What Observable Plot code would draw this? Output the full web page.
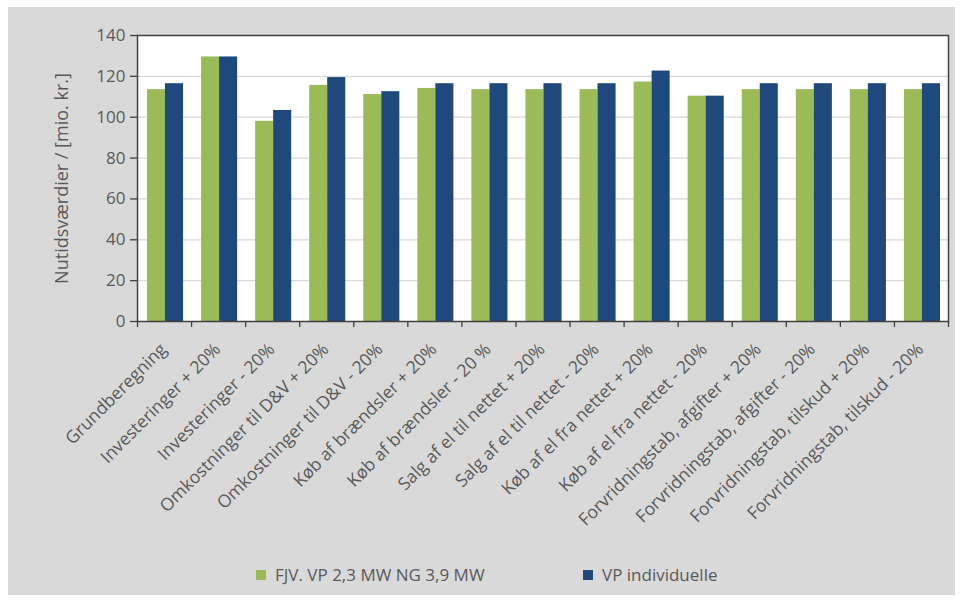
<!DOCTYPE html>
<html><head><meta charset="utf-8">
<script src="https://cdn.jsdelivr.net/npm/d3@7"></script>
<script src="https://cdn.jsdelivr.net/npm/@observablehq/plot@0.6"></script>
<style>
html,body{margin:0;padding:0;background:#fff;width:962px;height:602px;overflow:hidden;font-family:"Open Sans",sans-serif;}
#panel{position:absolute;left:8px;top:7px;width:947px;height:588px;background:#d9d9d9;}
#chart{position:absolute;left:0;top:0;}
.leg{position:absolute;top:563px;display:flex;align-items:center;color:#595959;font-size:17px;font-family:"Open Sans",sans-serif;white-space:nowrap;}
.sw{width:10px;height:10px;margin-right:9px;}
</style></head>
<body>
<div id="panel"></div>
<div id="chart"></div>
<div id="legend"></div>
<script>
const categories = [
  "Grundberegning",
  "Investeringer + 20%",
  "Investeringer - 20%",
  "Omkostninger til D&V + 20%",
  "Omkostninger til D&V - 20%",
  "Køb af brændsler + 20%",
  "Køb af brændsler - 20 %",
  "Salg af el til nettet + 20%",
  "Salg af el til nettet - 20%",
  "Køb af el fra nettet + 20%",
  "Køb af el fra nettet - 20%",
  "Forvridningstab, afgifter + 20%",
  "Forvridningstab, afgifter - 20%",
  "Forvridningstab, tilskud + 20%",
  "Forvridningstab, tilskud - 20%"
];
const seriesNames = ["FJV. VP 2,3 MW NG 3,9 MW", "VP individuelle"];
const seriesColors = ["#9bbb59", "#1f497d"];
const fjvValues = [113.5, 129.5, 98, 115.6, 111.1, 114.1, 113.5, 113.5, 113.5, 117.2, 110.3, 113.5, 113.5, 113.5, 113.5];
const vpValues  = [116.4, 129.5, 103.3, 119.4, 112.5, 116.4, 116.4, 116.4, 116.4, 122.6, 110.3, 116.4, 116.4, 116.4, 116.4];
const yTicks = [0, 20, 40, 60, 80, 100, 120, 140];
const yTitle = "Nutidsværdier / [mio. kr.]";

const rows = categories.map((c, i) => ({i, c, fjv: fjvValues[i], vp: vpValues[i]}));
const boundaries = d3.range(categories.length + 1);
const centers = categories.map((c, i) => i + 0.5);
const textColor = "#595959";
const axisColor = "#404040";

const chart = Plot.plot({
  width: 962,
  height: 530,
  marginLeft: 137,
  marginRight: 14,
  marginTop: 35,
  marginBottom: 209,
  style: "background: transparent; overflow: visible;",
  x: {type: "linear", domain: [0, categories.length], axis: null},
  y: {domain: [0, 140], axis: null},
  marks: [
    Plot.frame({fill: "white", stroke: null}),
    Plot.gridY(yTicks.filter(t => t > 0 && t < 140), {stroke: "#d9d9d9", strokeOpacity: 1, strokeWidth: 1.2}),
    Plot.rectY(rows, {x1: "i", x2: d => d.i + 1, y1: 0, y2: "fjv", fill: seriesColors[0], insetLeft: 10, insetRight: 26}),
    Plot.rectY(rows, {x1: "i", x2: d => d.i + 1, y1: 0, y2: "vp", fill: seriesColors[1], insetLeft: 28, insetRight: 8}),
    Plot.frame({stroke: axisColor, strokeWidth: 1.5}),
    Plot.axisY(yTicks, {anchor: "left", tickSize: 7, tickPadding: 5, stroke: axisColor, strokeWidth: 1.3, fill: textColor, fontSize: 17, fontFamily: "Open Sans", label: null}),
    Plot.axisX(boundaries, {anchor: "bottom", tickSize: 6, stroke: axisColor, strokeWidth: 1.3, tickFormat: () => "", label: null}),
    Plot.axisX(centers, {anchor: "bottom", tickSize: 0, tickPadding: 25, dx: -1, tickRotate: -45, tickFormat: d => categories[Math.round(d - 0.5)], fill: textColor, fontSize: 17.5, fontFamily: "Open Sans", label: null}),
    Plot.text([yTitle], {frameAnchor: "left", rotate: -90, dx: -75, textAnchor: "middle", lineAnchor: "middle", fill: textColor, fontSize: 18, fontFamily: "Open Sans"})
  ]
});
document.getElementById("chart").appendChild(chart);

const legend = document.getElementById("legend");
const legLeft = [256, 583];
seriesNames.forEach((name, k) => {
  const item = document.createElement("div");
  item.className = "leg";
  item.style.left = legLeft[k] + "px";
  const sw = document.createElement("span");
  sw.className = "sw";
  sw.style.background = seriesColors[k];
  const t = document.createElement("span");
  t.textContent = name;
  item.appendChild(sw);
  item.appendChild(t);
  legend.appendChild(item);
});
</script>
</body></html>
